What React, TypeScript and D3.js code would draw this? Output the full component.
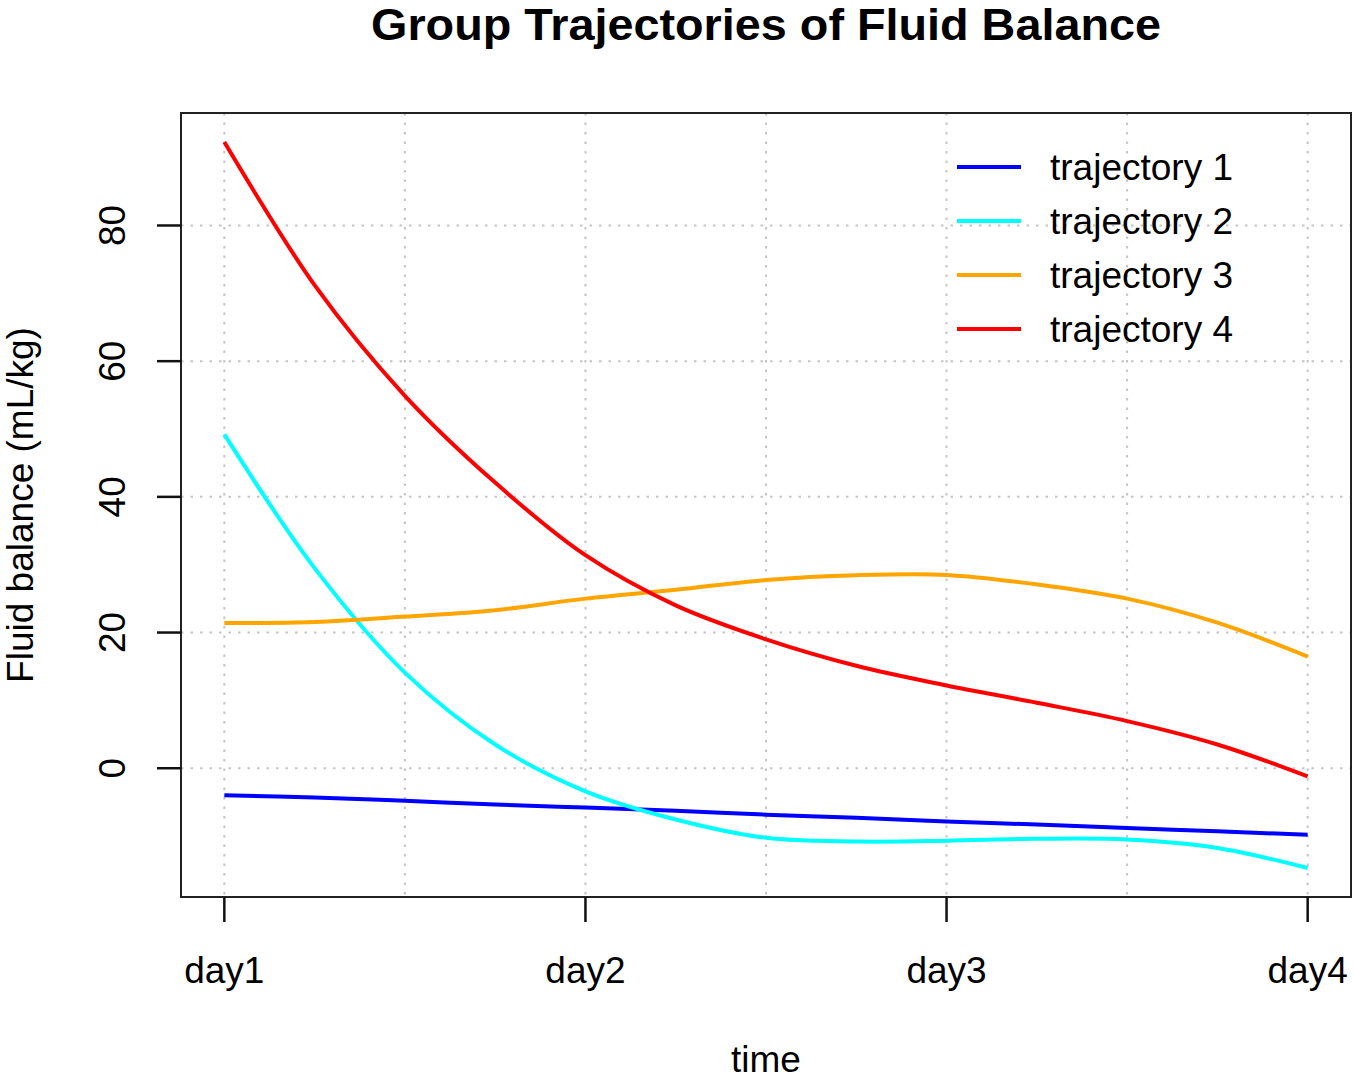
import React, { useEffect, useRef } from 'react';
import * as d3 from 'd3';

// time in days (day1 .. day4), read every quarter day
const times = [1, 1.25, 1.5, 1.75, 2, 2.25, 2.5, 2.75, 3, 3.25, 3.5, 3.75, 4];
const dayLabels = ['day1', 'day2', 'day3', 'day4'];
const dayTicks = [1, 2, 3, 4];
const yTicks = [0, 20, 40, 60, 80];

const trajectory1 = [-4.0, -4.3, -4.8, -5.35, -5.8, -6.25, -6.85, -7.3, -7.85, -8.3, -8.8, -9.3, -9.8];
const trajectory2 = [49.2, 29.5, 14.1, 3.5, -3.4, -7.55, -10.25, -10.8, -10.7, -10.4, -10.5, -11.75, -14.7];
const trajectory3 = [21.4, 21.55, 22.35, 23.3, 25.0, 26.3, 27.75, 28.45, 28.5, 27.1, 25.0, 21.45, 16.45];
const trajectory4 = [92.3, 71.2, 54.9, 42.1, 31.4, 24.0, 19.0, 15.1, 12.2, 9.65, 6.95, 3.5, -1.2];

const seriesNames = ['trajectory 1', 'trajectory 2', 'trajectory 3', 'trajectory 4'];
const seriesColors = ['#0000ff', '#00ffff', '#ffa500', '#ff0000'];

const FONT = '"Liberation Sans", Arial, sans-serif';

const App: React.FC = () => {
  const svgRef = useRef<SVGSVGElement>(null);

  useEffect(() => {
    if (!svgRef.current) return;
    const svg = d3.select(svgRef.current);
    svg.selectAll('*').remove();

    const width = 1355;
    const height = 1082;
    const plot = { left: 181, right: 1351, top: 113, bottom: 897 };

    const allSeries = [trajectory1, trajectory2, trajectory3, trajectory4];
    const allValues = allSeries.flat();
    const yMin = d3.min(allValues) || 0;
    const yMax = d3.max(allValues) || 0;
    const yPad = (yMax - yMin) * 0.04;
    const xPad = (d3.max(times)! - d3.min(times)!) * 0.04;

    const x = d3
      .scaleLinear()
      .domain([d3.min(times)! - xPad, d3.max(times)! + xPad])
      .range([plot.left, plot.right]);

    const y = d3
      .scaleLinear()
      .domain([yMin - yPad, yMax + yPad])
      .range([plot.bottom, plot.top]);

    svg.append('rect').attr('width', width).attr('height', height).attr('fill', '#ffffff');

    // grid
    const grid = svg.append('g').attr('stroke', '#c4c4c4').attr('stroke-width', 2).attr('stroke-dasharray', '2.5,7');
    const xGrid = [1, 1.5, 2, 2.5, 3, 3.5, 4];
    grid
      .selectAll('.vgrid')
      .data(xGrid)
      .enter()
      .append('line')
      .attr('x1', (d) => x(d))
      .attr('x2', (d) => x(d))
      .attr('y1', plot.top)
      .attr('y2', plot.bottom);
    grid
      .selectAll('.hgrid')
      .data(yTicks)
      .enter()
      .append('line')
      .attr('x1', plot.left)
      .attr('x2', plot.right)
      .attr('y1', (d) => y(d))
      .attr('y2', (d) => y(d));

    // lines
    const line = d3
      .line<number>()
      .x((_, i) => x(times[i]))
      .y((d) => y(d))
      .curve(d3.curveCatmullRom.alpha(0.5));

    allSeries.forEach((s, i) => {
      svg
        .append('path')
        .datum(s)
        .attr('d', line)
        .attr('fill', 'none')
        .attr('stroke', seriesColors[i])
        .attr('stroke-width', 4);
    });

    // box
    svg
      .append('rect')
      .attr('x', plot.left)
      .attr('y', plot.top)
      .attr('width', plot.right - plot.left)
      .attr('height', plot.bottom - plot.top)
      .attr('fill', 'none')
      .attr('stroke', '#222')
      .attr('stroke-width', 2);

    // x axis
    const xAxis = svg.append('g');
    xAxis
      .selectAll('line')
      .data(dayTicks)
      .enter()
      .append('line')
      .attr('x1', (d) => x(d))
      .attr('x2', (d) => x(d))
      .attr('y1', plot.bottom)
      .attr('y2', plot.bottom + 25)
      .attr('stroke', '#111')
      .attr('stroke-width', 2.5);
    xAxis
      .selectAll('text')
      .data(dayTicks)
      .enter()
      .append('text')
      .attr('x', (d) => x(d))
      .attr('y', 983)
      .attr('text-anchor', 'middle')
      .attr('font-family', FONT)
      .attr('font-size', 37)
      .text((_, i) => dayLabels[i]);

    // y axis
    const yAxis = svg.append('g');
    yAxis
      .selectAll('line')
      .data(yTicks)
      .enter()
      .append('line')
      .attr('x1', plot.left - 24)
      .attr('x2', plot.left)
      .attr('y1', (d) => y(d))
      .attr('y2', (d) => y(d))
      .attr('stroke', '#111')
      .attr('stroke-width', 2.5);
    yAxis
      .selectAll('text')
      .data(yTicks)
      .enter()
      .append('text')
      .attr('transform', (d) => `translate(125,${y(d)}) rotate(-90)`)
      .attr('text-anchor', 'middle')
      .attr('font-family', FONT)
      .attr('font-size', 37)
      .text((d) => d);

    // titles
    svg
      .append('text')
      .attr('x', (plot.left + plot.right) / 2)
      .attr('y', 40)
      .attr('text-anchor', 'middle')
      .attr('font-family', FONT)
      .attr('font-weight', 'bold')
      .attr('font-size', 44)
      .attr('textLength', 790)
      .attr('lengthAdjust', 'spacingAndGlyphs')
      .text('Group Trajectories of Fluid Balance');

    svg
      .append('text')
      .attr('x', (plot.left + plot.right) / 2)
      .attr('y', 1072)
      .attr('text-anchor', 'middle')
      .attr('font-family', FONT)
      .attr('font-size', 37)
      .text('time');

    svg
      .append('text')
      .attr('transform', `translate(33,${(plot.top + plot.bottom) / 2}) rotate(-90)`)
      .attr('text-anchor', 'middle')
      .attr('font-family', FONT)
      .attr('font-size', 37)
      .text('Fluid balance (mL/kg)');

    // legend
    const legend = svg.append('g');
    seriesNames.forEach((name, i) => {
      const ly = 167 + i * 54;
      legend
        .append('line')
        .attr('x1', 957)
        .attr('x2', 1021)
        .attr('y1', ly)
        .attr('y2', ly)
        .attr('stroke', seriesColors[i])
        .attr('stroke-width', 4);
      legend
        .append('text')
        .attr('x', 1050)
        .attr('y', ly)
        .attr('dy', '0.35em')
        .attr('font-family', FONT)
        .attr('font-size', 37)
        .text(name);
    });
  }, []);

  return (
    <svg
      ref={svgRef}
      width={1355}
      height={1082}
      style={{ position: 'absolute', left: 0, top: 0, display: 'block' }}
    ></svg>
  );
};

export default App;
